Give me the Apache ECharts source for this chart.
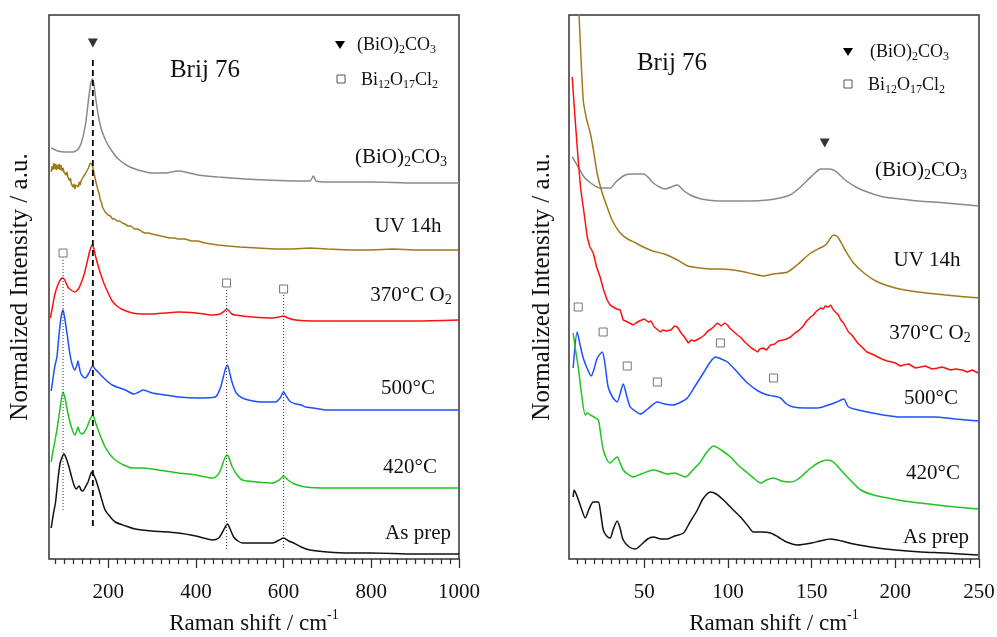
<!DOCTYPE html>
<html><head><meta charset="utf-8">
<script src="https://cdn.jsdelivr.net/npm/echarts@6/dist/echarts.min.js"></script>
<style>html,body{margin:0;padding:0;background:#fff}#c{width:997px;height:637px}</style>
</head><body><div id="c"></div>
<script>
const FONT = 'Liberation Serif, Times New Roman, serif';

// ---------- LEFT PANEL (Raman shift 65-1000 cm-1) ----------
const leftMajor = [200, 400, 600, 800, 1000];
const leftMinor = [80,100,120,140,160,180,220,240,260,280,300,320,340,360,380,420,440,460,480,500,520,540,560,580,620,640,660,680,700,720,740,760,780,820,840,860,880,900,920,940,960,980];

const leftGray = [[70,411],[75,410],[80,409],[85,408],[100,407],[120,407],[132,410],[140,418],[148,434],[155,459],[160,475],[164,480],[168,473],[172,459],[178,442],[185,429],[197,416],[210,407],[223,400],[245,393],[268,389],[300,386],[330,386],[360,388],[385,386],[405,384],[450,382],[513,380],[560,379],[627,378],[660,378],[668,383],[674,378],[700,377],[800,377],[900,376],[1000,376]];

const leftBrown = [[70,387],[72,393],[74,389],[76,396],[78,390],[80,395],[82,389],[84,394],[86,390],[88,395],[90,389],[92,394],[95,388],[97,391],[99,387],[102,389],[104,384],[106,387],[108,382],[110,384],[112,378],[114,381],[116,375],[118,377],[120,372],[122,375],[124,370],[126,374],[128,372],[130,376],[132,372],[134,377],[136,374],[138,378],[140,377],[143,382],[146,381],[149,386],[152,386],[155,391],[157,392],[159,396],[161,397],[164,394],[168,385],[172,377],[176,370],[179,366],[182,359],[185,356],[187,352],[190,351],[193,347],[197,346],[200,344],[205,343],[210,340],[215,340],[220,338],[226,338],[232,336],[238,335],[245,333],[252,333],[260,330],[266,330],[272,329],[278,327],[284,326],[292,326],[300,325],[310,324],[320,323],[330,322],[340,321],[350,321],[360,320],[375,320],[390,318],[405,318],[420,316],[435,315],[450,314],[474,313],[500,312],[540,311],[580,310],[620,310],[660,311],[700,310],[750,309],[800,309],[850,310],[900,309],[950,309],[1000,309]];

const leftRed = [[68,241],[72,250],[78,264],[85,274],[92,280],[97,281],[102,278],[108,272],[115,269],[124,267],[132,270],[140,278],[146,286],[152,297],[158,308],[163,314],[167,311],[171,303],[176,295],[182,286],[190,276],[200,266],[209,258],[220,253],[230,250],[255,246],[280,245],[300,245],[330,246],[360,247],[400,246],[438,244],[455,245],[465,248],[470,250],[476,248],[482,245],[490,244],[530,242],[575,241],[590,242],[600,243],[610,241],[627,239],[668,238],[800,238],[900,238],[1000,239]];

const leftBlue = [[70,168],[74,180],[78,192],[83,202],[88,225],[92,240],[95,247],[97,249],[100,243],[106,226],[112,207],[117,196],[124,189],[128,193],[131,198],[134,192],[138,185],[147,181],[155,185],[161,191],[165,193],[170,190],[177,187],[190,181],[209,174],[239,169],[259,165],[270,167],[280,169],[300,166],[330,164],[360,162],[406,161],[444,162],[455,170],[462,181],[468,191],[472,194],[476,188],[483,176],[492,166],[506,161],[530,158],[552,157],[582,157],[592,161],[600,167],[606,163],[616,157],[630,155],[640,154],[650,152],[668,151],[700,149],[800,149],[900,149],[1000,149]];

const leftGreen = [[70,97],[75,110],[83,129],[90,150],[97,167],[102,160],[108,146],[116,132],[124,124],[128,128],[131,132],[135,127],[140,125],[146,127],[152,132],[158,139],[165,144],[170,138],[177,129],[185,120],[193,112],[205,104],[216,99],[235,94],[255,91],[280,91],[300,90],[330,88],[360,86],[400,84],[438,81],[450,84],[458,91],[465,100],[472,104],[477,99],[483,92],[494,84],[506,79],[540,77],[575,76],[590,79],[600,83],[610,79],[625,75],[650,72],[700,71],[800,71],[900,71],[1000,71]];

const leftBlack = [[70,31],[75,45],[80,57],[85,78],[90,95],[95,102],[99,105],[104,101],[110,93],[116,83],[122,74],[127,70],[131,72],[134,73],[138,69],[142,68],[148,72],[154,77],[160,85],[163,87],[167,84],[172,79],[177,72],[185,60],[193,49],[205,42],[216,37],[240,33],[262,30],[300,28],[360,26],[400,23],[438,19],[452,21],[462,28],[472,35],[478,30],[486,22],[496,18],[506,16],[540,16],[575,16],[590,19],[600,21],[612,18],[623,16],[640,12],[660,9],[700,7],[750,6],[800,6],[900,5],[1000,5]];

const leftDashed = [[165,499],[165,30]];
const leftDot1 = [[97,299],[97,47]];
const leftDot2 = [[470,269],[470,10]];
const leftDot3 = [[600,264],[600,10]];
const leftSquares = [[97,306],[470,276],[600,270]];
const leftTriangles = [[165,516]];

// ---------- RIGHT PANEL (Raman shift 5-250 cm-1) ----------
const rightMajor = [50, 100, 150, 200, 250];
const rightMinor = [10,15,20,25,30,35,40,45,55,60,65,70,75,80,85,90,95,105,110,115,120,125,130,135,140,145,155,160,165,170,175,180,185,190,195,205,210,215,220,225,230,235,240,245];

const rightGray = [[7,402],[10.5,392],[14,382],[18,376],[23.6,371],[29.6,371],[33,377],[38.6,384],[44,385],[49.4,385],[55.4,376],[59,372],[62.6,370],[66,372],[69.8,374],[73,369],[77.5,364],[82,361],[87.7,359],[95,358],[103,358],[113,358],[123.7,359],[131,361],[137,364],[142,370],[147.6,379],[152,386],[155.4,390],[160,390],[163,389],[165.6,386],[170,379],[177.5,371],[185,366],[193,362],[203,360],[213.5,358],[230,356],[250,353]];

const rightBrown = [[9,609],[11,544],[13.5,459],[15.5,440],[17.7,426],[19.5,410],[21.8,386],[24.5,368],[27.8,352],[31,338],[35.6,326],[40,320],[45,316],[49.4,312],[55,308],[62,305],[69.8,299],[76,293],[83.5,291],[90,290],[95,290],[103,289],[110,287],[115,285],[121,283],[127,285],[135.6,287],[142,295],[149.4,306],[155,311],[158.4,314],[163.2,324],[165.6,322],[170,309],[175,296],[182,285],[189.5,277],[200,271],[213.5,267],[230,264],[250,261]];

const rightRed = [[6.9,482],[8.7,439],[10.5,399],[12,370],[13.5,352],[15.9,322],[17.5,312],[19.5,306],[21.5,292],[23.6,282],[25.5,270],[27.8,259],[29.5,254],[31.4,252],[33.5,250],[35.6,249],[37.4,239],[40,237],[43.4,234],[45,236],[47,238],[50,240],[52.4,237],[54,238],[56,232],[59.6,227],[61,229],[63,228],[66,229],[68,233],[69.8,232],[72,226],[74,222],[76.3,216],[78,219],[80,218],[83.5,221],[86,224],[88,228],[90,230],[93.7,236],[96,233],[98,236],[99.7,234],[101,231],[103,228],[105.7,224],[108,221],[110,217],[112,214],[114,211],[116,209],[117.7,207],[119,210],[121,211],[123,209],[125.4,214],[128,215],[130,218],[133,219],[135,220],[137.4,222],[140,226],[142,228],[145,233],[147,238],[149.4,242],[151,244],[153,248],[155.4,251],[157,250],[158,253],[160,252],[161.4,254],[163,249],[164,251],[166,244],[167.4,239],[169,236],[172,227],[174,224],[177.5,216],[180,212],[183,207],[186,205],[189.5,202],[192,200],[195,198],[198,197],[200,196],[203,193],[205,194],[208,195],[212,191],[215,192],[218,193],[222,190],[225.5,191],[228,192],[233,189],[236,190],[240,189],[243,187],[246,189],[249.4,186]];

const rightBlue = [[7.5,191],[9.9,227],[11.5,215],[13.5,201],[16,190],[18.3,183],[20,190],[21.9,201],[24.9,207],[26.5,195],[28.4,172],[31,162],[33.8,157],[35.5,165],[37.4,175],[39.5,163],[41.6,152],[44.5,148],[47.6,145],[52,150],[57.8,157],[62,155],[67.4,154],[72,157],[75.7,161],[80,172],[85.3,186],[89,196],[92.5,202],[96,200],[99.7,197],[105,188],[111.7,176],[118,168],[123.7,164],[127,163],[131.4,161],[135,155],[139,152],[146,151],[153.6,151],[160,154],[165,157],[169.2,160],[172,152],[178,149],[183.5,147],[193,144],[203,142],[213,142],[223,142],[236,140],[250,138]];

const rightGreen = [[7.5,226],[9,208],[10.5,192],[12.5,165],[14.7,144],[16,146],[17.7,144],[20,142],[22.5,139],[24,124],[25.5,109],[27.5,100],[29.6,96],[31.5,99],[33.8,102],[35.5,96],[37.4,89],[40,85],[43.4,82],[48,85],[55.4,89],[60,87],[63.8,85],[68,86],[74.6,82],[79,89],[83.5,97],[87,106],[91.3,113],[96,109],[101.5,102],[106,94],[111.7,86],[116,80],[119.5,76],[123,79],[127.2,81],[132,78],[137.4,77],[142,80],[149.4,91],[155,97],[159.6,99],[163,97],[167.4,89],[173,79],[179.3,69],[187,64],[195.5,61],[205,58],[215.3,56],[230,53],[249.4,50]];

const rightBlack = [[7.5,62],[8.1,69],[10,62],[12.5,50],[14.7,41],[17,50],[19.5,57],[22.5,57],[24,45],[25.5,29],[27.5,23],[29.6,21],[31.5,30],[33.8,38],[35.5,31],[37.4,19],[41,12],[44.6,10],[48,14],[52,20],[55.4,22],[60,20],[63.8,20],[68,23],[73.4,26],[77,36],[81.7,49],[85,60],[89.5,67],[93,65],[97.3,59],[102,51],[107.5,42],[112,33],[115.3,27],[120,27],[125.4,26],[130,22],[135,17],[141.6,14],[150,16],[155,18],[161.4,20],[168,18],[175,15],[185.3,12],[200,9],[215.3,7],[230,6],[249.4,4]];

const rightSquares = [[10.5,252],[25.4,227],[39.8,193],[57.8,177],[95.5,216],[127.2,181]];
const rightTriangles = [[157.8,416]];

// ---------- chart ----------
const COL = {gray:'#8a8a8a', brown:'#a07a1a', red:'#ff1010', blue:'#1f4fff', green:'#1fc51f', black:'#111111'};
const chart = echarts.init(document.getElementById('c'));

function curve(data, color, g, sm) {
  return {type:'line', xAxisIndex:g*2, yAxisIndex:g, data:data, showSymbol:false, symbol:'none',
    smooth: sm, lineStyle:{color:color, width:1.5}, silent:true, clip:true, z:2};
}
function vline(data, g, dashed) {
  return {type:'line', xAxisIndex:g*2, yAxisIndex:g, data:data, showSymbol:false, symbol:'none', silent:true, z:3,
    lineStyle: dashed ? {color:'#000', width:1.8, type:[6,4]} : {color:'#333', width:1, type:[1,2]}};
}
function squares(data, g) {
  return {type:'scatter', xAxisIndex:g*2, yAxisIndex:g, data:data, symbol:'rect', symbolSize:8, silent:true, z:4,
    itemStyle:{color:'#fff', borderColor:'#555', borderWidth:1}};
}
function triangles(data, g) {
  return {type:'scatter', xAxisIndex:g*2, yAxisIndex:g, data:data, symbol:'triangle', symbolRotate:180, symbolSize:[10,9], silent:true, z:4,
    itemStyle:{color:'#000'}};
}

const tickStyle = {color:'#333', width:1.3};
function xAxes(g, min, max, major, minor) {
  return [
    {gridIndex:g, type:'value', min:min, max:max, position:'bottom',
     axisLine:{show:false}, splitLine:{show:false},
     axisTick:{show:true, inside:false, length:9, customValues:major, lineStyle:tickStyle},
     axisLabel:{customValues:major, fontFamily:FONT, fontSize:21, color:'#111', margin:23,
       formatter:function(v){ return String(v); }},
     name:'{a|Raman shift / cm}{s|-1}', nameLocation:'middle', nameGap:48,
     nameTextStyle:{fontFamily:FONT, color:'#111', rich:{
       a:{fontFamily:FONT, fontSize:23, color:'#111', lineHeight:28, verticalAlign:'bottom'},
       s:{fontFamily:FONT, fontSize:14, color:'#111', lineHeight:14, verticalAlign:'top'}}}},
    {gridIndex:g, type:'value', min:min, max:max, position:'bottom',
     axisLine:{show:false}, splitLine:{show:false},
     axisTick:{show:true, inside:false, length:5, customValues:minor, lineStyle:tickStyle},
     axisLabel:{show:false}}
  ];
}
function yAxis(g, gap) {
  return {gridIndex:g, type:'value', min:0, max:544, position:'left',
    axisLine:{show:false}, axisTick:{show:false}, axisLabel:{show:false}, splitLine:{show:false},
    name:'Normalized Intensity / a.u.', nameLocation:'middle', nameGap:gap,
    nameTextStyle:{fontFamily:FONT, fontSize:25, color:'#111'}};
}

const RICH = {
  m:{fontFamily:FONT, fontSize:21, color:'#111', lineHeight:24},
  s:{fontFamily:FONT, fontSize:14, color:'#111', lineHeight:14, verticalAlign:'bottom'},
  lm:{fontFamily:FONT, fontSize:18, color:'#111', lineHeight:22},
  ls:{fontFamily:FONT, fontSize:12, color:'#111', lineHeight:12, verticalAlign:'bottom'}
};
function txt(x, y, text, align) {
  return {type:'text', x:x, y:y, silent:true, z:10,
    style:{text:text, rich:RICH, align:align || 'center', verticalAlign:'middle', font:'21px ' + FONT, fill:'#111'}};
}
function plain(x, y, text, size) {
  return {type:'text', x:x, y:y, silent:true, z:10,
    style:{text:text, align:'center', verticalAlign:'middle', font: size + 'px ' + FONT, fill:'#111'}};
}
const BIOCO = '{m|(BiO)}{s|2}{m|CO}{s|3}';
const O2 = '{m|370°C O}{s|2}';
const LBIO = '{lm|(BiO)}{ls|2}{lm|CO}{ls|3}';
const LBICL = '{lm|Bi}{ls|12}{lm|O}{ls|17}{lm|Cl}{ls|2}';

function legendGraphics(tx, ty, sx, sy) {
  return [
    {type:'polygon', silent:true, z:10, shape:{points:[[tx-5,ty-4],[tx+5,ty-4],[tx,ty+4]]}, style:{fill:'#000'}},
    {type:'rect', silent:true, z:10, shape:{x:sx-4, y:sy-4, width:8, height:8}, style:{fill:'#fff', stroke:'#555', lineWidth:1}}
  ];
}

const option = {
  animation:false,
  backgroundColor:'#fff',
  grid:[
    {left:49, right:538, top:15, bottom:78, show:true, borderColor:'#333', borderWidth:1.5, backgroundColor:'transparent', containLabel:false, outerBoundsMode:'none'},
    {left:569, right:18, top:15, bottom:78, show:true, borderColor:'#333', borderWidth:1.5, backgroundColor:'transparent', containLabel:false, outerBoundsMode:'none'}
  ],
  xAxis:[].concat(xAxes(0, 65, 1000, leftMajor, leftMinor), xAxes(1, 5, 250, rightMajor, rightMinor)),
  yAxis:[yAxis(0, 16), yAxis(1, 14)],
  series:[
    curve(leftGray, COL.gray, 0, 0.25), curve(leftBrown, COL.brown, 0, false), curve(leftRed, COL.red, 0, 0.2),
    curve(leftBlue, COL.blue, 0, 0.25), curve(leftGreen, COL.green, 0, 0.25), curve(leftBlack, COL.black, 0, 0.25),
    vline(leftDashed, 0, true), vline(leftDot1, 0, false), vline(leftDot2, 0, false), vline(leftDot3, 0, false),
    squares(leftSquares, 0), triangles(leftTriangles, 0),
    curve(rightGray, COL.gray, 1, 0.3), curve(rightBrown, COL.brown, 1, 0.25), curve(rightRed, COL.red, 1, false),
    curve(rightBlue, COL.blue, 1, 0.25), curve(rightGreen, COL.green, 1, 0.25), curve(rightBlack, COL.black, 1, 0.25),
    squares(rightSquares, 1), triangles(rightTriangles, 1)
  ],
  graphic:[].concat(
    [plain(205, 70, 'Brij 76', 25), plain(672, 63, 'Brij 76', 25),
     txt(357, 45, LBIO, 'left'), txt(361, 80, LBICL, 'left'),
     txt(870, 52, LBIO, 'left'), txt(868, 85, LBICL, 'left'),
     txt(401, 157, BIOCO), txt(408, 226, '{m|UV 14h}'), txt(411, 295, O2),
     txt(408, 388, '{m|500°C}'), txt(410, 467, '{m|420°C}'), txt(418, 533, '{m|As prep}'),
     txt(921, 170, BIOCO), txt(927, 260, '{m|UV 14h}'), txt(930, 333, O2),
     txt(931, 398, '{m|500°C}'), txt(933, 473, '{m|420°C}'), txt(936, 537, '{m|As prep}')],
    legendGraphics(340, 45, 341, 79),
    legendGraphics(848, 52, 848, 84)
  )
};
chart.setOption(option);
</script>
</body></html>
